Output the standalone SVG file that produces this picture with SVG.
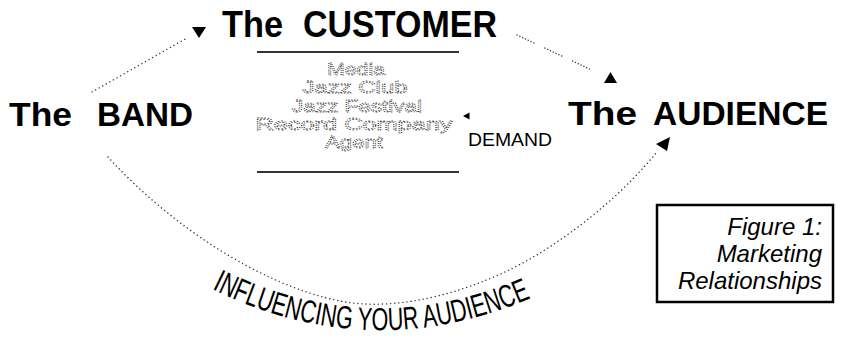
<svg xmlns="http://www.w3.org/2000/svg" width="846" height="339" viewBox="0 0 846 339">
  <style>
    .head { font-family: "Liberation Sans", Arial, sans-serif; font-weight: bold; fill: #000; }
    .list { font-family: "Liberation Sans", Arial, sans-serif; font-size: 16px; fill: #fff; stroke: #333; stroke-width: 0.8; stroke-dasharray: 1 1.1; text-anchor: middle; }
    .rule { stroke: #333; stroke-width: 2; }
    .dots { fill: none; stroke: #333; stroke-width: 1.4; stroke-linecap: round; stroke-dasharray: 0.1 4; }
    .grouped { stroke-dasharray: 0.1 3 0.1 3 0.1 3 0.1 3 0.1 3 0.1 3 0.1 12; }
    .tip { fill: #000; }
    .label { font-family: "Liberation Sans", Arial, sans-serif; fill: #000; }
    .caption { font-family: "Liberation Sans", Arial, sans-serif; font-style: italic; font-size: 24px; fill: #000; text-anchor: end; }
  </style>
  <defs>
    <path id="influencePath" d="M212,289 Q375,369 540,294"/>
  </defs>

  <rect width="846" height="339" fill="#fff"/>

  <!-- connectors -->
  <g id="connectors">
    <!-- band to customer -->
    <path class="dots" d="M92,92 L187,38"/>
    <polygon class="tip" points="192,27 206,27 199,38"/>
    <!-- customer to audience -->
    <path class="dots grouped" d="M517,35 L598,73"/>
    <polygon class="tip" points="604,83 617,83 610.5,72"/>
    <!-- demand -->
    <polygon class="tip" points="463,116 469.5,112.5 469.5,119.5"/>
    <!-- band to audience, lower arc -->
    <path class="dots" d="M108,157 C170,225 260,285 340,301 C400,313 480,290 540,253 C590,222 630,185 656,153"/>
    <polygon class="tip" points="656,144 670,137 667,151"/>
  </g>

  <!-- The CUSTOMER -->
  <g id="customer">
    <text class="head" x="222" y="37" font-size="37" textLength="61" lengthAdjust="spacingAndGlyphs">The</text>
    <text class="head" x="303" y="37" font-size="37" textLength="194" lengthAdjust="spacingAndGlyphs">CUSTOMER</text>
    <line class="rule" x1="257" y1="52" x2="459" y2="52"/>
    <text class="list" x="356" y="75" textLength="58" lengthAdjust="spacingAndGlyphs">Media</text>
    <text class="list" x="355" y="93" textLength="105" lengthAdjust="spacingAndGlyphs">Jazz Club</text>
    <text class="list" x="357" y="112" textLength="130" lengthAdjust="spacingAndGlyphs">Jazz Festival</text>
    <text class="list" x="354" y="130" textLength="197" lengthAdjust="spacingAndGlyphs">Record Company</text>
    <text class="list" x="354" y="148" textLength="58" lengthAdjust="spacingAndGlyphs">Agent</text>
    <line class="rule" x1="257" y1="172" x2="459" y2="172"/>
  </g>

  <!-- The BAND -->
  <g id="band">
    <text class="head" x="9" y="126" font-size="34" textLength="63" lengthAdjust="spacingAndGlyphs">The</text>
    <text class="head" x="97" y="126" font-size="34" textLength="96" lengthAdjust="spacingAndGlyphs">BAND</text>
  </g>

  <!-- The AUDIENCE -->
  <g id="audience">
    <text class="head" x="568" y="125" font-size="34" textLength="69" lengthAdjust="spacingAndGlyphs">The</text>
    <text class="head" x="653" y="125" font-size="34" textLength="175" lengthAdjust="spacingAndGlyphs">AUDIENCE</text>
  </g>

  <!-- DEMAND -->
  <g id="demand">
    <text class="label" x="468" y="146" font-size="18" textLength="84" lengthAdjust="spacingAndGlyphs">DEMAND</text>
  </g>

  <!-- arc label -->
  <g id="influencing">
    <text class="label" font-size="32">
      <textPath href="#influencePath" textLength="330" lengthAdjust="spacingAndGlyphs">INFLUENCING YOUR AUDIENCE</textPath>
    </text>
  </g>

  <!-- caption box -->
  <g id="caption">
    <rect x="657" y="205" width="176" height="97" fill="#fff" stroke="#000" stroke-width="2.5"/>
    <text class="caption" x="822" y="235">Figure 1:</text>
    <text class="caption" x="822" y="262">Marketing</text>
    <text class="caption" x="822" y="289">Relationships</text>
  </g>
</svg>
